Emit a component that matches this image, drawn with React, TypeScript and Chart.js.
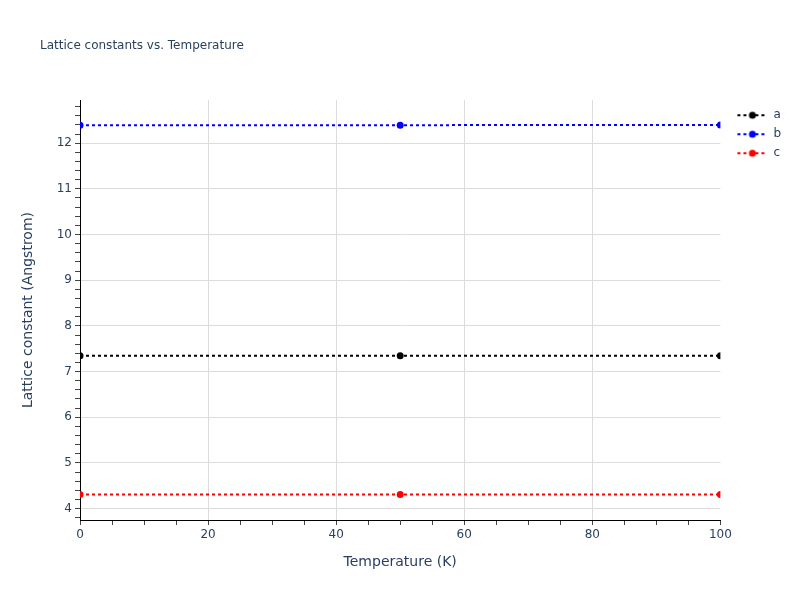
import React, { useEffect, useRef } from 'react';
import { Chart, registerables } from 'chart.js';

Chart.register(...registerables);

const temperatures = [0, 50, 100];
const latticeA = [7.344, 7.344, 7.348];
const latticeB = [12.394, 12.394, 12.40];
const latticeC = [4.306, 4.306, 4.31];

const seriesNames = ['a', 'b', 'c'];
const seriesColors = ['#000000', '#0000ff', '#ff0000'];

const yMin = 3.75;
const yMax = 12.945;
const yMinorTicks = Array.from({ length: 46 }, (_, i) => Math.round((3.8 + i * 0.2) * 10) / 10);
const xMinorTicks = Array.from({ length: 21 }, (_, i) => i * 5);

const FONT = '"DejaVu Sans", verdana, sans-serif';
const TEXT = '#2a3f5f';
const GRID = '#dcdcdc';

const isWhole = (v: number) => Math.abs(v - Math.round(v)) < 1e-6;

// legend marker: dotted line with a dot in the middle
const legendIcon = (color: string) => {
  const c = document.createElement('canvas');
  c.width = 40;
  c.height = 10;
  const ctx = c.getContext('2d')!;
  ctx.strokeStyle = color;
  ctx.lineWidth = 2;
  ctx.setLineDash([3, 3]);
  ctx.beginPath();
  ctx.moveTo(10, 5);
  ctx.lineTo(39, 5);
  ctx.stroke();
  ctx.fillStyle = color;
  ctx.beginPath();
  ctx.arc(25, 5, 3.5, 0, Math.PI * 2);
  ctx.fill();
  return c;
};

const titlePlugin = {
  id: 'plotTitle',
  afterDraw(chart: any) {
    const ctx = chart.ctx;
    ctx.save();
    ctx.font = `12px ${FONT}`;
    ctx.fillStyle = TEXT;
    ctx.textBaseline = 'middle';
    ctx.fillText('Lattice constants vs. Temperature', 40, 46);
    ctx.restore();
  },
};

const App: React.FC = () => {
  const canvasRef = useRef<HTMLCanvasElement>(null);

  useEffect(() => {
    document.body.style.margin = '0';
    if (!canvasRef.current) return;
    const series = [latticeA, latticeB, latticeC];
    const chart = new Chart(canvasRef.current, {
      type: 'line',
      data: {
        datasets: series.map((vals, i) => ({
          label: seriesNames[i],
          data: vals.map((v, j) => ({ x: temperatures[j], y: v })),
          borderColor: seriesColors[i],
          backgroundColor: seriesColors[i],
          borderWidth: 2,
          borderDash: [3, 3],
          pointRadius: 3.5,
          pointHoverRadius: 3.5,
          pointBorderWidth: 0,
          pointStyle: 'circle',
          tension: 0,
        })),
      },
      options: {
        animation: false,
        responsive: true,
        maintainAspectRatio: false,
        layout: { padding: { top: 100, left: 8, right: 9, bottom: 0 } },
        plugins: {
          tooltip: { enabled: false },
          legend: {
            position: 'right',
            align: 'start',
            fullSize: false,
            // empty title only nudges the items down a little
            title: { display: true, text: '', font: { size: 1 }, padding: { top: 1, bottom: 0 } },
            labels: {
              usePointStyle: true,
              pointStyleWidth: 40,
              padding: 7,
              color: TEXT,
              font: { family: FONT, size: 12 },
              generateLabels: (ch: any) =>
                ch.data.datasets.map((ds: any, i: number) => ({
                  text: ds.label,
                  pointStyle: legendIcon(seriesColors[i]),
                  fillStyle: seriesColors[i],
                  strokeStyle: seriesColors[i],
                  lineWidth: 0,
                  fontColor: TEXT,
                  datasetIndex: i,
                  hidden: false,
                })),
            },
          },
        },
        scales: {
          x: {
            type: 'linear',
            min: 0,
            max: 100,
            afterFit: (axis: any) => {
              axis.height = 80;
            },
            afterBuildTicks: (axis: any) => {
              axis.ticks = xMinorTicks.map((v) => ({ value: v }));
            },
            ticks: {
              autoSkip: false,
              maxRotation: 0,
              padding: 3,
              color: TEXT,
              font: { family: FONT, size: 12 },
              callback: (v: any) => (Number(v) % 20 === 0 ? String(v) : ''),
            },
            grid: {
              tickLength: 5,
              color: (c: any) => {
                const v = c.tick?.value;
                return v % 20 === 0 && v !== 0 && v !== 100 ? GRID : 'rgba(0,0,0,0)';
              },
              tickColor: '#444',
            },
            border: { display: true, color: '#000', width: 1 },
            title: {
              display: true,
              text: 'Temperature (K)',
              color: TEXT,
              font: { family: FONT, size: 14 },
              padding: { top: 0, bottom: 29 },
            },
          },
          y: {
            type: 'linear',
            min: yMin,
            max: yMax,
            bounds: 'data',
            afterFit: (axis: any) => {
              axis.width = 72;
            },
            afterBuildTicks: (axis: any) => {
              axis.ticks = yMinorTicks.map((v) => ({ value: v }));
            },
            ticks: {
              autoSkip: false,
              padding: 3,
              color: TEXT,
              font: { family: FONT, size: 12 },
              callback: (v: any) => (isWhole(Number(v)) ? String(Math.round(Number(v))) : ''),
            },
            grid: {
              tickLength: 5,
              color: (c: any) => (c.tick && isWhole(c.tick.value) ? GRID : 'rgba(0,0,0,0)'),
              tickColor: '#444',
            },
            border: { display: true, color: '#000', width: 1 },
            title: {
              display: true,
              text: 'Lattice constant (Angstrom)',
              color: TEXT,
              font: { family: FONT, size: 14 },
              padding: { top: 12, bottom: 0 },
            },
          },
        },
      },
      plugins: [titlePlugin],
    });
    return () => {
      chart.destroy();
    };
  }, []);

  return (
    <div style={{ position: 'relative', width: 800, height: 600 }}>
      <canvas ref={canvasRef} />
    </div>
  );
};

export default App;
